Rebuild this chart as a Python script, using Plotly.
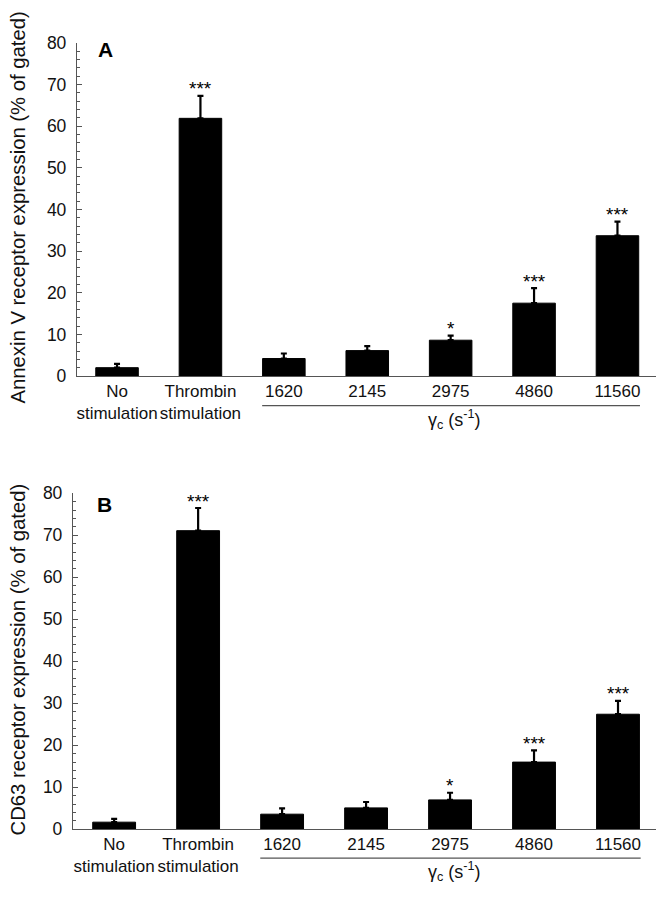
import plotly.graph_objects as go

categories = ["No<br>stimulation", "Thrombin<br>stimulation", "1620", "2145", "2975", "4860", "11560"]
positions = [1, 2, 3, 4, 5, 6, 7]

annexin_vals = [2.0, 61.9, 4.2, 6.1, 8.6, 17.5, 33.7]
annexin_err = [0.9, 5.4, 1.2, 1.1, 1.1, 3.6, 3.4]

cd63_vals = [1.7, 71.1, 3.6, 5.1, 7.0, 16.0, 27.4]
cd63_err = [0.8, 5.4, 1.4, 1.4, 1.7, 2.8, 3.2]

significance = ["", "***", "", "", "*", "***", "***"]

y_ticks = [0, 10, 20, 30, 40, 50, 60, 70, 80]

annexin_title = "Annexin V receptor expression (% of gated)"
cd63_title = "CD63 receptor expression (% of gated)"

FONT = "Liberation Sans, Arial, sans-serif"
AXIS_COLOR = "#555555"
TXT = "#111111"

W, H = 664, 900
OFF = 8  # page body margin offset in the browser


def px(v):
    return v - OFF


fig = go.Figure()


def add_panel(vals, errs, xa, ya):
    fig.add_trace(go.Bar(
        x=positions, y=vals, width=0.51,
        marker=dict(color="black", line=dict(color="black", width=1)),
        error_y=dict(type="data", symmetric=False, array=errs,
                     arrayminus=[0] * len(errs), color="black",
                     thickness=2.2, width=3),
        xaxis=xa, yaxis=ya, showlegend=False, hoverinfo="skip",
    ))
    for p, v, e, s in zip(positions, vals, errs, significance):
        if s:
            fig.add_annotation(xref=xa, yref=ya, x=p, y=v + e, text=s,
                               showarrow=False, yanchor="middle", yshift=7,
                               font=dict(family=FONT, size=19, color="black"))


add_panel(annexin_vals, annexin_err, "x", "y")
add_panel(cd63_vals, cd63_err, "x2", "y2")

# pixel geometry -> paper fractions
top_dom = [1 - px(376) / H, 1 - px(43) / H]
bot_dom = [1 - px(829.3) / H, 1 - px(493.3) / H]

xcommon = dict(
    tickmode="array", tickvals=positions, ticktext=categories,
    showline=True, linecolor=AXIS_COLOR, linewidth=1.3,
    ticks="", showgrid=False, zeroline=False, tickangle=0,
    tickfont=dict(family=FONT, size=17, color=TXT),
    ticklabelstandoff=-1, automargin=False,
)
ycommon = dict(
    range=[0, 80], tickmode="array", tickvals=y_ticks,
    showline=True, linecolor=AXIS_COLOR, linewidth=1.3,
    ticks="inside", ticklen=5, tickcolor=AXIS_COLOR, tickwidth=1.2,
    minor=dict(dtick=2, ticks="inside", ticklen=3, tickcolor=AXIS_COLOR, tickwidth=1),
    showgrid=False, zeroline=False,
    tickfont=dict(family=FONT, size=17.5, color=TXT),
    ticklabelstandoff=6, automargin=False,
)

fig.update_layout(
    width=W, height=H,
    margin=dict(l=0, r=0, t=0, b=0),
    paper_bgcolor="white", plot_bgcolor="white",
    font=dict(family=FONT, size=18, color=TXT),
    xaxis=dict(domain=[px(77) / W, px(660) / W], range=[0.52, 7.51], anchor="y", **xcommon),
    yaxis=dict(domain=top_dom, anchor="x", **ycommon),
    xaxis2=dict(domain=[px(73) / W, px(660) / W], range=[0.51, 7.5], anchor="y2", **xcommon),
    yaxis2=dict(domain=bot_dom, anchor="x2", **ycommon),
)

# y-axis titles (rotated)
fig.add_annotation(xref="paper", yref="paper", x=px(17.5) / W, y=1 - px(208) / H,
                   xanchor="center", yanchor="middle", textangle=-90, showarrow=False,
                   borderpad=0, text=annexin_title,
                   font=dict(family=FONT, size=20.3, color=TXT))
fig.add_annotation(xref="paper", yref="paper", x=px(17.5) / W, y=1 - px(660) / H,
                   xanchor="center", yanchor="middle", textangle=-90, showarrow=False,
                   borderpad=0, text=cd63_title,
                   font=dict(family=FONT, size=20.3, color=TXT))

# underline for the shear-rate group and its label
for xr, yr, yline, ylab in [("x", "y domain", -0.089, -0.132), ("x2", "y2 domain", -0.086, -0.127)]:
    fig.add_shape(type="line", xref=xr, yref=yr, x0=2.74, x1=7.27, y0=yline, y1=yline,
                  line=dict(color=AXIS_COLOR, width=1.3))
    fig.add_annotation(xref=xr, yref=yr, x=5.05, y=ylab, yanchor="middle",
                       text="γ<sub>c</sub> (s<sup>-1</sup>)", showarrow=False,
                       font=dict(family=FONT, size=18, color=TXT))

# panel letters
fig.add_annotation(xref="paper", yref="paper", x=px(96) / W, y=1 - px(50) / H, xanchor="left",
                   yanchor="middle", text="<b>A</b>", showarrow=False,
                   font=dict(family=FONT, size=21, color="black"))
fig.add_annotation(xref="paper", yref="paper", x=px(95) / W, y=1 - px(504) / H, xanchor="left",
                   yanchor="middle", text="<b>B</b>", showarrow=False,
                   font=dict(family=FONT, size=21, color="black"))

fig.write_html("out.html")
